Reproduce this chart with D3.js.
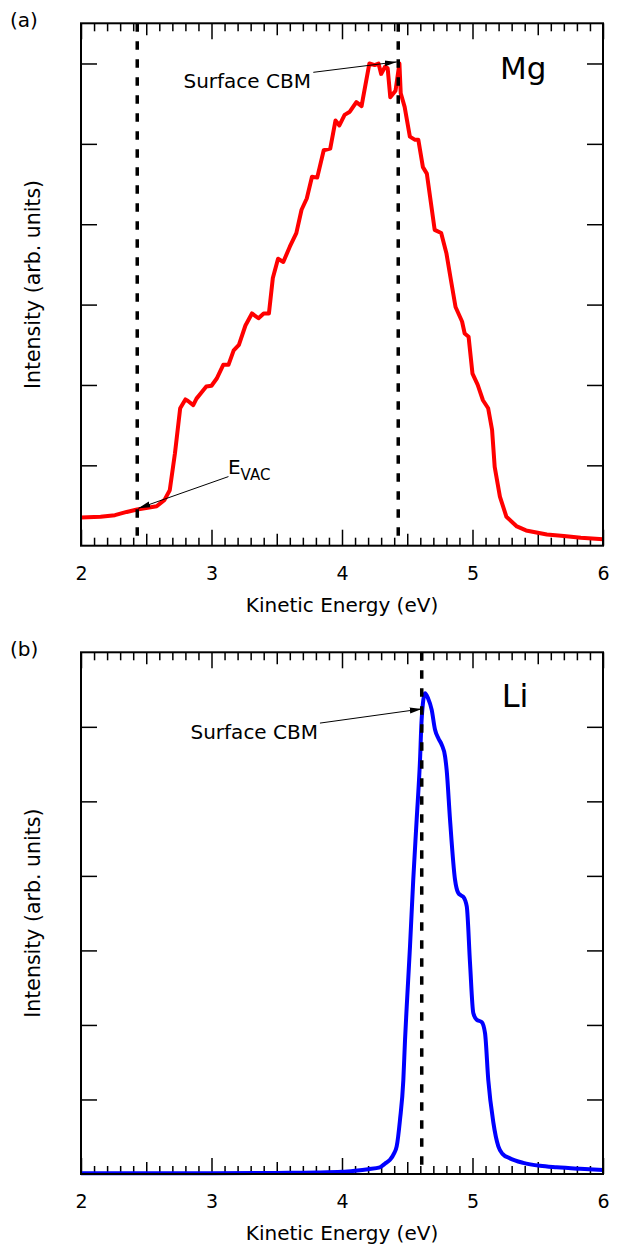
<!DOCTYPE html>
<html>
<head>
<meta charset="utf-8">
<script src="https://d3js.org/d3.v7.min.js"></script>
<style>
  body { margin: 0; background: #fff; }
  svg { display: block; font-family: "DejaVu Sans", Verdana, sans-serif; }
</style>
</head>
<body>
<script>
// Mg spectrum (panel a): kinetic energy (eV) and intensity (arb. units)
const mgEnergy = [2.00, 2.15, 2.26, 2.35, 2.43, 2.58, 2.64, 2.68, 2.72, 2.76, 2.80, 2.82, 2.86, 2.885, 2.92, 2.96,
  3.00, 3.04, 3.09, 3.13, 3.17, 3.21, 3.26, 3.31, 3.36, 3.40, 3.44, 3.47, 3.51, 3.55, 3.60, 3.65, 3.69, 3.73,
  3.77, 3.81, 3.86, 3.91, 3.95, 3.98, 4.02, 4.06, 4.11, 4.15, 4.16, 4.21, 4.25, 4.28, 4.30, 4.33, 4.35, 4.37,
  4.41, 4.44, 4.45, 4.48, 4.52, 4.56, 4.585, 4.62, 4.65, 4.71, 4.76, 4.80, 4.83, 4.87, 4.92, 4.94, 4.97, 5.00,
  5.04, 5.08, 5.12, 5.15, 5.17, 5.21, 5.26, 5.34, 5.41, 5.57, 5.70, 5.83, 6.00];
const mgIntensity = [0.35, 0.36, 0.38, 0.42, 0.45, 0.49, 0.57, 0.69, 1.15, 1.71, 1.82, 1.80, 1.75, 1.83, 1.90, 1.98,
  1.99, 2.08, 2.25, 2.25, 2.43, 2.50, 2.74, 2.89, 2.83, 2.89, 2.89, 3.33, 3.57, 3.53, 3.72, 3.89, 4.18, 4.32,
  4.59, 4.58, 4.92, 4.94, 5.29, 5.23, 5.36, 5.40, 5.52, 5.47, 5.56, 6.00, 5.98, 6.00, 5.87, 5.96, 5.94, 5.58,
  5.66, 6.00, 5.63, 5.46, 5.09, 5.05, 5.05, 4.71, 4.63, 3.93, 3.89, 3.64, 3.35, 2.97, 2.79, 2.64, 2.60, 2.14,
  2.00, 1.81, 1.71, 1.44, 0.98, 0.61, 0.36, 0.24, 0.19, 0.14, 0.12, 0.10, 0.08];

// Li spectrum (panel b)
const liEnergy = [2.0, 2.5, 3.0, 3.5, 3.8, 4.0, 4.1, 4.2, 4.29, 4.33, 4.368, 4.40, 4.419, 4.444, 4.47, 4.483,
  4.496, 4.521, 4.546, 4.572, 4.598, 4.61, 4.636, 4.66, 4.687, 4.713, 4.74, 4.764, 4.79, 4.802, 4.828, 4.866,
  4.891, 4.91, 4.929, 4.956, 4.981, 5.006, 5.032, 5.07, 5.096, 5.121, 5.159, 5.198, 5.23, 5.287, 5.389, 5.517,
  5.645, 5.824, 6.0];
const liIntensity = [0.01, 0.01, 0.01, 0.015, 0.02, 0.03, 0.045, 0.065, 0.09, 0.14, 0.19, 0.28, 0.37, 0.72, 1.26, 1.80,
  2.25, 3.05, 3.95, 4.75, 5.56, 6.09, 6.45, 6.38, 6.23, 5.96, 5.84, 5.76, 5.60, 5.42, 4.75, 3.95,
  3.77, 3.74, 3.72, 3.59, 2.83, 2.16, 2.07, 2.04, 1.89, 1.26, 0.70, 0.37, 0.27, 0.21, 0.15, 0.11,
  0.09, 0.07, 0.054];

const xTickLabels = [2, 3, 4, 5, 6];
const yTickValues = [1, 2, 3, 4, 5, 6];

const W = 621, H = 1247;
const svg = d3.select("body").append("svg").attr("width", W).attr("height", H);

svg.append("defs").append("marker")
  .attr("id", "arrow")
  .attr("markerUnits", "userSpaceOnUse")
  .attr("viewBox", "0 -4 12 8")
  .attr("refX", 12).attr("refY", 0)
  .attr("markerWidth", 12).attr("markerHeight", 8)
  .attr("orient", "auto")
  .append("path").attr("d", "M0,-3L12,0L0,3Z").attr("fill", "#000");

function drawPanel(p) {
  const left = 81, right = 603;
  const w = right - left, h = p.bottom - p.top;
  const g = svg.append("g").attr("transform", `translate(${left},${p.top})`);

  const x = d3.scaleLinear().domain([2, 6]).range([0, w]);
  const y = d3.scaleLinear().domain([0, p.yMax]).range([h, 0]);

  const minor = d3.range(20, 61).map(d => d / 10);
  const tickLen = d => {
    const k = Math.round(d * 10);
    return k % 10 === 0 ? 16 : k % 5 === 0 ? 12 : 8;
  };

  // bottom axis with labels, ticks inward
  const gb = g.append("g").attr("transform", `translate(0,${h})`)
    .call(d3.axisBottom(x).tickValues(minor).tickSize(0)
      .tickFormat(d => xTickLabels.includes(d) ? d : ""));
  gb.selectAll(".tick line").attr("y2", d => -tickLen(d)).attr("stroke-width", 1.5);
  gb.selectAll(".tick text").attr("y", 34).attr("dy", 0).attr("font-size", 19)
    .attr("font-family", "DejaVu Sans").attr("fill", "#000");

  const gt = g.append("g")
    .call(d3.axisTop(x).tickValues(minor).tickSize(0).tickFormat(""));
  gt.selectAll(".tick line").attr("y2", d => tickLen(d)).attr("stroke-width", 1.5);

  const gl = g.append("g")
    .call(d3.axisLeft(y).tickValues(yTickValues).tickSize(-16).tickFormat(""));
  const gr = g.append("g").attr("transform", `translate(${w},0)`)
    .call(d3.axisRight(y).tickValues(yTickValues).tickSize(-16).tickFormat(""));
  [gb, gt, gl, gr].forEach(a => a.select(".domain").remove());
  [gl, gr].forEach(a => a.selectAll(".tick line").attr("stroke-width", 1.5));

  // data curve
  const line = d3.line()
    .x(i => x(p.energy[i])).y(i => y(p.intensity[i]))
    .curve(p.curve);
  g.append("path")
    .attr("d", line(d3.range(p.energy.length)))
    .attr("fill", "none").attr("stroke", p.color)
    .attr("stroke-width", 4).attr("stroke-linejoin", "round");

  // dashed markers
  p.dashed.forEach(e => {
    g.append("line")
      .attr("x1", x(e)).attr("x2", x(e)).attr("y1", 0).attr("y2", h)
      .attr("stroke", "#000").attr("stroke-width", 3.5)
      .attr("stroke-dasharray", "8.5,9.5");
  });

  // frame
  g.append("rect").attr("width", w).attr("height", h)
    .attr("fill", "none").attr("stroke", "#000").attr("stroke-width", 2);

  // arrows
  p.arrows.forEach(a => {
    g.append("line")
      .attr("x1", x(a.from[0])).attr("y1", y(a.from[1]))
      .attr("x2", x(a.to[0])).attr("y2", y(a.to[1]))
      .attr("stroke", "#000").attr("stroke-width", 1)
      .attr("marker-end", "url(#arrow)");
  });

  // labels
  p.labels.forEach(l => {
    const t = g.append("text")
      .attr("x", x(l.at[0])).attr("y", y(l.at[1]))
      .attr("font-size", l.size).attr("text-anchor", l.anchor || "start")
      .text(l.text);
    if (l.sub) {
      t.append("tspan").attr("dy", 6).attr("font-size", 15).text(l.sub);
    }
  });

  // axis titles
  g.append("text")
    .attr("x", w / 2).attr("y", h + 66)
    .attr("text-anchor", "middle").attr("font-size", 20)
    .text("Kinetic Energy (eV)");
  g.append("text")
    .attr("transform", `translate(${40 - left},${h / 2}) rotate(-90)`)
    .attr("text-anchor", "middle").attr("font-size", 20.5)
    .text("Intensity (arb. units)");

  svg.append("text").attr("x", 10).attr("y", p.top + 4)
    .attr("font-size", 20).text(p.tag);
}

drawPanel({
  tag: "(a)", top: 23.3, bottom: 545.7, yMax: 6.5,
  energy: mgEnergy, intensity: mgIntensity, color: "#ff0000",
  curve: d3.curveLinear,
  dashed: [2.431, 4.431],
  arrows: [
    { from: [3.78, 5.89], to: [4.42, 6.02] },
    { from: [3.13, 0.86], to: [2.44, 0.465] }
  ],
  labels: [
    { text: "Surface CBM", at: [3.762, 5.69], size: 20, anchor: "end" },
    { text: "Mg", at: [5.211, 5.81], size: 31 },
    { text: "E", sub: "VAC", at: [3.126, 0.888], size: 20 }
  ]
});

drawPanel({
  tag: "(b)", top: 652.3, bottom: 1174, yMax: 7,
  energy: liEnergy, intensity: liIntensity, color: "#0000ff",
  curve: d3.curveMonotoneX,
  dashed: [4.611],
  arrows: [
    { from: [3.831, 6.05], to: [4.611, 6.24] }
  ],
  labels: [
    { text: "Surface CBM", at: [3.816, 5.83], size: 20, anchor: "end" },
    { text: "Li", at: [5.224, 6.26], size: 32 }
  ]
});
</script>
</body>
</html>
